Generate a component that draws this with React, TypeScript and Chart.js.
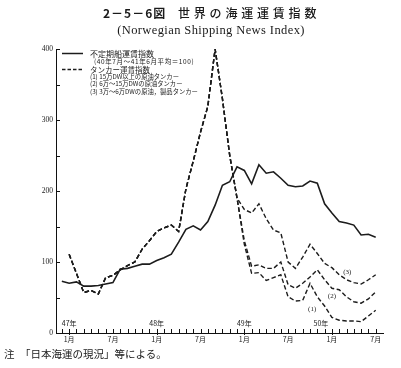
import React, { useEffect, useRef } from 'react';
import { Chart, registerables } from 'chart.js';

Chart.register(...registerables);

// Months from 46年12月 to 50年7月 (x value = index - 1, i.e. months since 47年1月)
const months = [
  '46年12月',
  '47年1月', '47年2月', '47年3月', '47年4月', '47年5月', '47年6月', '47年7月', '47年8月', '47年9月', '47年10月', '47年11月', '47年12月',
  '48年1月', '48年2月', '48年3月', '48年4月', '48年5月', '48年6月', '48年7月', '48年8月', '48年9月', '48年10月', '48年11月', '48年12月',
  '49年1月', '49年2月', '49年3月', '49年4月', '49年5月', '49年6月', '49年7月', '49年8月', '49年9月', '49年10月', '49年11月', '49年12月',
  '50年1月', '50年2月', '50年3月', '50年4月', '50年5月', '50年6月', '50年7月',
];

// 不定期船運賃指数 (46年12月 .. 50年7月)
const trampIndex = [
  73,
  70, 72, 66, 66, 67, 69, 71, 90, 91, 94, 97, 97,
  102, 106, 111, 128, 146, 151, 145, 157, 180, 208, 213, 234,
  229, 210, 237, 225, 227, 218, 208, 206, 207, 214, 211, 182,
  169, 157, 155, 152, 138, 139, 135,
];

// タンカー運賃指数 — common line (47年1月 .. 48年11月)
const tankerCommon = [
  111, 84, 57, 60, 55, 78, 81, 89, 95, 100, 118, 130,
  143, 148, 152, 143, 203, 242, 283, 319, 400, 330, 250,
];

// After the split (48年12月 .. 50年7月)
const tanker1After = [190, 125, 84, 85, 74, 78, 82, 51, 45, 46, 70, 51, 38, 22, 18, 17, 17, 16, 24, 32];
const tanker2After = [190, 130, 94, 96, 91, 91, 100, 68, 63, 70, 79, 89, 75, 63, 61, 51, 44, 42, 48, 58];
const tanker3After = [190, 174, 169, 182, 161, 145, 141, 100, 91, 107, 125, 112, 98, 92, 82, 75, 71, 69, 75, 82];

// Notes placed next to the tanker lines: [text, month value, index value]
const noteTexts = ['(1)', '(2)', '(3)'];
const noteMonths = [33.3, 36.0, 38.1];
const noteValues = [33, 52, 85];

const LINE = '#1c1c1c';
const JP = '"Noto Sans CJK JP", "Noto Sans", sans-serif';
const SERIF = '"Liberation Serif", "DejaVu Serif", serif';

const toPoints = (vals: (number | null)[]) => vals.map((v, i) => ({ x: i - 1, y: v }));
const tankerSeries = (after: number[]) => [null, ...tankerCommon, ...after];

const refPlugin = {
  id: 'refDecor',
  afterDraw(chart: any) {
    const { ctx, chartArea, scales } = chart;
    const x = scales.x;
    const y = scales.y;
    ctx.save();
    ctx.strokeStyle = '#111';
    ctx.lineWidth = 1;
    ctx.setLineDash([]);
    // y ticks (inside)
    y.ticks.forEach((t: any) => {
      const py = Math.round(y.getPixelForValue(t.value)) + 0.5;
      ctx.beginPath();
      ctx.moveTo(chartArea.left, py);
      ctx.lineTo(chartArea.left + 4, py);
      ctx.stroke();
    });
    // x ticks: one per month
    months.forEach((m, i) => {
      const px = Math.round(x.getPixelForValue(i - 1)) + 0.5;
      const jan = m.endsWith('年1月');
      ctx.beginPath();
      ctx.moveTo(px, chartArea.bottom + (jan ? 2 : 0));
      ctx.lineTo(px, chartArea.bottom - 4);
      ctx.stroke();
    });
    // year labels
    ctx.fillStyle = '#222';
    ctx.font = `7px ${JP}`;
    ctx.textAlign = 'center';
    ctx.textBaseline = 'middle';
    months.forEach((m, i) => {
      if (!m.endsWith('年1月')) return;
      const yr = m.split('年')[0] + '年';
      const shift = yr === '50年' ? -11 : 0;
      ctx.fillText(yr, x.getPixelForValue(i - 1) + shift, chartArea.bottom - 10);
    });
    // line notes
    ctx.font = `7px ${SERIF}`;
    noteTexts.forEach((t, i) => {
      ctx.fillText(t, x.getPixelForValue(noteMonths[i]), y.getPixelForValue(noteValues[i]));
    });
    // legend samples
    ctx.strokeStyle = LINE;
    ctx.lineWidth = 1.5;
    ctx.beginPath();
    ctx.moveTo(62, 53.5);
    ctx.lineTo(83, 53.5);
    ctx.stroke();
    ctx.setLineDash([3.5, 2]);
    ctx.beginPath();
    ctx.moveTo(62, 69.5);
    ctx.lineTo(83, 69.5);
    ctx.stroke();
    ctx.restore();
  },
};

export default function App() {
  const ref = useRef<HTMLCanvasElement | null>(null);

  useEffect(() => {
    if (!ref.current) return;
    const dashed = { borderDash: [4.5, 2.5], borderWidth: 1.4 };
    const chart = new Chart(ref.current, {
      type: 'line',
      data: {
        datasets: [
          { label: '不定期船運賃指数', data: toPoints(trampIndex), borderColor: LINE, borderWidth: 1.6 },
          { label: '(1)', data: toPoints(tankerSeries(tanker1After)), borderColor: LINE, ...dashed },
          { label: '(2)', data: toPoints(tankerSeries(tanker2After)), borderColor: LINE, ...dashed },
          { label: '(3)', data: toPoints(tankerSeries(tanker3After)), borderColor: LINE, ...dashed },
        ],
      },
      options: {
        animation: false,
        responsive: false,
        devicePixelRatio: 1,
        layout: { padding: { left: 0, right: 18, top: 49, bottom: 21 } },
        plugins: { legend: { display: false }, tooltip: { enabled: false }, title: { display: false } },
        elements: { point: { radius: 0 }, line: { tension: 0, fill: false } },
        scales: {
          x: {
            type: 'linear',
            min: -1.8,
            max: 43,
            grid: { display: false, drawTicks: false },
            border: { display: true, color: '#111', width: 1 },
            afterBuildTicks: (s: any) => {
              s.ticks = months.map((_, i) => ({ value: i - 1 }));
            },
            afterFit: (s: any) => {
              s.height = 14;
            },
            ticks: {
              autoSkip: false,
              maxRotation: 0,
              padding: 2,
              color: '#222',
              font: { size: 7, family: JP },
              callback: (v: any) => {
                const m = months[Number(v) + 1] || '';
                if (m.endsWith('年1月')) return '1月';
                if (m.endsWith('年7月')) return '7月';
                return '';
              },
            },
          },
          y: {
            min: 0,
            max: 400,
            grid: { display: false, drawTicks: false },
            border: { display: true, color: '#111', width: 1 },
            afterFit: (s: any) => {
              s.width = 56;
            },
            ticks: {
              stepSize: 50,
              padding: 3,
              color: '#222',
              font: { size: 7.5, family: SERIF },
              callback: (v: any) => (Number(v) % 100 === 0 ? String(v) : ''),
            },
          },
        },
      },
      plugins: [refPlugin],
    } as any);
    return () => chart.destroy();
  }, []);

  const abs = (left: number, top: number, size: number, extra: any = {}) => ({
    position: 'absolute' as const,
    left,
    top,
    fontSize: size,
    lineHeight: 1,
    whiteSpace: 'nowrap' as const,
    color: '#1a1a1a',
    fontFamily: JP,
    ...extra,
  });

  return (
    <div style={{ position: 'fixed', left: 0, top: 0, width: 401, height: 368, background: '#fff', overflow: 'hidden' }}>
      <canvas ref={ref} width={401} height={368} style={{ position: 'absolute', left: 0, top: 0, width: 401, height: 368 }} />
      <div style={abs(103, 7, 12, { fontWeight: 700, letterSpacing: 1 })}>2－5－6図</div>
      <div style={abs(178, 7, 12, { letterSpacing: 3.8, fontWeight: 500 })}>世界の海運運賃指数</div>
      <div style={abs(0, 24, 12.5, { width: 422, textAlign: 'center', fontFamily: SERIF, letterSpacing: 0.4 })}>
        (Norwegian Shipping News Index)
      </div>
      <div style={abs(90, 50, 8)}>不定期船運賃指数</div>
      <div style={abs(94, 57.5, 6.5, { letterSpacing: 0.6 })}>(40年7月～41年6月平均＝100)</div>
      <div style={abs(90, 65.5, 7.5)}>タンカー運賃指数</div>
      <div style={abs(90, 73.5, 6.3)}>(1) 15万DW以上の原油タンカー</div>
      <div style={abs(90, 81.2, 6.3)}>(2) 6万～15万DWの原油タンカー</div>
      <div style={abs(90, 89.2, 6.3)}>(3) 3万～6万DWの原油，製品タンカー</div>
      <div style={abs(4, 349, 10.5)}>注</div>
      <div style={abs(20, 349, 10.5)}>「日本海運の現況」等による。</div>
    </div>
  );
}
